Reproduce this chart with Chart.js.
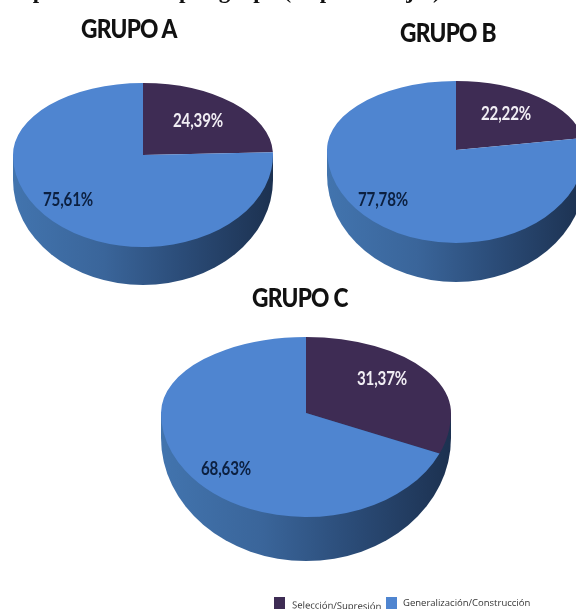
<!DOCTYPE html>
<html>
<head>
<meta charset="utf-8">
<script src="https://cdn.jsdelivr.net/npm/chart.js@4/dist/chart.umd.min.js"></script>
<style>
html, body { margin: 0; padding: 0; background: #fff; width: 576px; height: 609px; overflow: hidden; }
#page { position: relative; width: 576px; height: 609px; overflow: hidden; filter: blur(0.45px); }
canvas { position: absolute; }
.heading { position: absolute; font-family: Lato, sans-serif; font-weight: 900; font-size: 27px; line-height: 28px; color: #111; letter-spacing: -0.9px; white-space: nowrap; transform: scaleX(0.84); transform-origin: left center; }
#caption { position: absolute; left: 0; top: -22px; font: bold 23px/26px "Liberation Serif", serif; color: #111; white-space: nowrap; }
.swatch { position: absolute; width: 11px; height: 12px; }
.legendText { position: absolute; font-family: "Open Sans", sans-serif; font-size: 9.5px; line-height: 12px; color: #333; white-space: nowrap; }
</style>
</head>
<body>
<div id="page">
  <div id="caption"><span style="position:absolute;left:6px">Representación</span><span style="position:absolute;left:179px">por grupo (en porcentajes)</span></div>
  <div class="heading" id="headA" style="left:81px;top:14px"></div>
  <div class="heading" id="headB" style="left:400px;top:18px"></div>
  <div class="heading" id="headC" style="left:252px;top:283px"></div>
  <canvas id="pieA"></canvas>
  <canvas id="pieB"></canvas>
  <canvas id="pieC"></canvas>
  <div class="swatch" style="left:274px;top:597px;background:#3e2c54"></div>
  <div class="legendText" id="legend0" style="left:292px;top:600px;transform:rotate(1deg)"></div>
  <div class="swatch" style="left:386px;top:597px;background:#4f85d0"></div>
  <div class="legendText" id="legend1" style="left:403px;top:597px"></div>
</div>
<script>
const categories = ['Selección/Supresión', 'Generalización/Construcción'];
const groupNames = ['GRUPO A', 'GRUPO B', 'GRUPO C'];
const valuesA = [24.39, 75.61];
const valuesB = [22.22, 77.78];
const valuesC = [31.37, 68.63];
const sliceColors = ['#3e2c54', '#4f85d0'];

document.getElementById('legend0').textContent = categories[0];
document.getElementById('legend1').textContent = categories[1];
document.getElementById('headA').textContent = groupNames[0];
document.getElementById('headB').textContent = groupNames[1];
document.getElementById('headC').textContent = groupNames[2];

// Falsche 3D-Torte: obere und untere Haelfte werden verschieden gestaucht
const tiltPlugin = {
    id: 'tilt',
    beforeDatasetsDraw(chart, args, opts) {
        const ctx = chart.ctx;
        const arc = chart.getDatasetMeta(0).data[0];
        const cx = arc.x, cy = arc.y, r = arc.outerRadius;

        // Seitenwand
        const grad = ctx.createLinearGradient(cx - r, 0, cx + r, 0);
        grad.addColorStop(0, '#4274ae');
        grad.addColorStop(0.35, '#3a659a');
        grad.addColorStop(0.65, '#2b4c78');
        grad.addColorStop(1, '#1c3150');
        ctx.save();
        ctx.beginPath();
        ctx.moveTo(cx - r, cy);
        ctx.lineTo(cx - r, cy + opts.sideDy);
        ctx.ellipse(cx, cy + opts.sideDy, r, opts.sideRy, 0, Math.PI, 0, true);
        ctx.lineTo(cx + r, cy);
        ctx.closePath();
        ctx.fillStyle = grad;
        ctx.fill();
        ctx.restore();

        // obere Haelfte
        ctx.save();
        ctx.beginPath();
        ctx.rect(0, 0, chart.width, cy);
        ctx.clip();
        ctx.translate(cx, cy);
        ctx.scale(1, opts.topRy / r);
        ctx.translate(-cx, -cy);
        chart.getDatasetMeta(0).controller.draw();
        ctx.restore();

        // untere Haelfte, die zeichnet Chart.js selbst
        ctx.save();
        ctx.beginPath();
        ctx.rect(0, cy, chart.width, chart.height - cy);
        ctx.clip();
        ctx.translate(cx, cy);
        ctx.scale(1, opts.bottomRy / r);
        ctx.translate(-cx, -cy);
    },
    afterDatasetsDraw(chart, args, opts) {
        const ctx = chart.ctx;
        ctx.restore();
        const arc = chart.getDatasetMeta(0).data[0];
        const values = chart.data.datasets[0].data;
        values.forEach((v, i) => {
            ctx.save();
            ctx.translate(arc.x + opts.labelDx[i], arc.y + opts.labelDy[i]);
            ctx.scale(0.84, 1);
            ctx.font = '700 18px Lato, sans-serif';
            ctx.letterSpacing = '-0.2px';
            ctx.textAlign = 'center';
            ctx.textBaseline = 'middle';
            ctx.fillStyle = i === 0 ? '#f1eef4' : '#0c2040';
            ctx.fillText(v.toFixed(2).replace('.', ',') + '%', 0, 0);
            ctx.restore();
        });
    }
};

function createPie(canvasId, values, cx, cy, r, tilt) {
    const canvas = document.getElementById(canvasId);
    const size = 2 * (r + 6);
    canvas.style.left = (cx - r - 6) + 'px';
    canvas.style.top = (cy - r - 6) + 'px';
    canvas.width = size;
    canvas.height = size;
    return new Chart(canvas.getContext('2d'), {
        type: 'pie',
        data: {
            labels: categories,
            datasets: [{
                data: values,
                backgroundColor: sliceColors,
                borderWidth: 0,
                radius: r
            }]
        },
        options: {
            responsive: false,
            animation: false,
            layout: { padding: 0 },
            plugins: {
                legend: { display: false },
                tooltip: { enabled: false },
                tilt: tilt
            }
        },
        plugins: [tiltPlugin]
    });
}

createPie('pieA', valuesA, 143, 155, 130, {
    topRy: 72, bottomRy: 92, sideDy: 25, sideRy: 105,
    labelDx: [55, -75], labelDy: [-34, 45]
});
createPie('pieB', valuesB, 456, 150, 129, {
    topRy: 69, bottomRy: 93, sideDy: 25, sideRy: 107,
    labelDx: [50, -73], labelDy: [-36, 50]
});
createPie('pieC', valuesC, 306, 413, 145, {
    topRy: 76, bottomRy: 104, sideDy: 25, sideRy: 123,
    labelDx: [76, -80], labelDy: [-34, 56]
});
</script>
</body>
</html>
